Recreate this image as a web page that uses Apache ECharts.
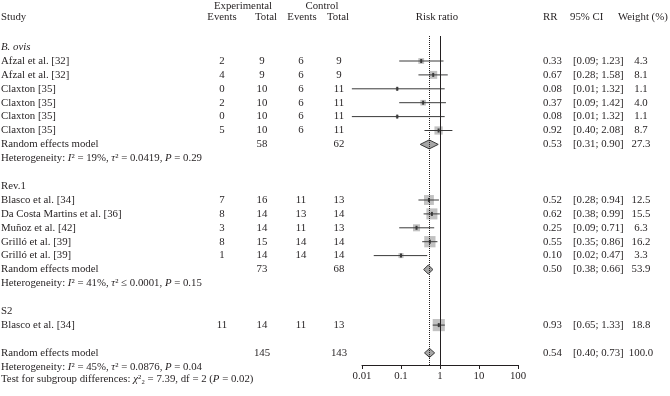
<!DOCTYPE html>
<html>
<head>
<meta charset="utf-8">
<script src="https://cdn.jsdelivr.net/npm/echarts@6/dist/echarts.min.js"></script>
<style>
  html, body { margin: 0; padding: 0; background: #fff; }
  #chart { width: 670px; height: 396px; }
</style>
</head>
<body>
<div id="chart"></div>
<script>
// studies (row = line number in the table)
var studyNames = ['Afzal et al. [32]', 'Afzal et al. [32]', 'Claxton [35]', 'Claxton [35]', 'Claxton [35]', 'Claxton [35]',
  'Blasco et al. [34]', 'Da Costa Martins et al. [36]', 'Muñoz et al. [42]', 'Grilló et al. [39]', 'Grilló et al. [39]',
  'Blasco et al. [34]']
var studyRows = [0, 1, 2, 3, 4, 5, 10, 11, 12, 13, 14, 19]
var expEvents = [2, 4, 0, 2, 0, 5, 7, 8, 3, 8, 1, 11]
var expTotal = [9, 9, 10, 10, 10, 10, 16, 14, 14, 15, 14, 14]
var ctrlEvents = [6, 6, 6, 6, 6, 6, 11, 13, 11, 14, 14, 11]
var ctrlTotal = [9, 9, 11, 11, 11, 11, 13, 14, 13, 14, 14, 13]
var rr = [0.33, 0.67, 0.08, 0.37, 0.08, 0.92, 0.52, 0.62, 0.25, 0.55, 0.10, 0.93]
var ciLow = [0.09, 0.28, 0.0055, 0.09, 0.0055, 0.40, 0.28, 0.38, 0.09, 0.35, 0.02, 0.65]
var ciHigh = [1.23, 1.58, 1.32, 1.42, 1.32, 2.08, 0.94, 0.99, 0.71, 0.86, 0.47, 1.33]
var weight = [4.3, 8.1, 1.1, 4.0, 1.1, 8.7, 12.5, 15.5, 6.3, 16.2, 3.3, 18.8]

// subgroups
var groupNames = ['B. ovis', 'Rev.1', 'S2']
var groupRows = [-1, 9, 18]

// random effects models
var poolRows = [6, 15, 21]
var poolExpTotal = [58, 73, 145]
var poolCtrlTotal = [62, 68, 143]
var poolRR = [0.53, 0.50, 0.54]
var poolLow = [0.31, 0.38, 0.40]
var poolHigh = [0.90, 0.66, 0.73]
var poolWeight = ['27.3', '53.9', '100.0']

// heterogeneity lines
var hetRows = [7, 16, 22]
var hetI2 = ['19%', '41%', '45%']
var hetTau2 = ['= 0.0419', '≤ 0.0001', '= 0.0876']
var hetP = ['0.29', '0.15', '0.04']
var testRow = 22.9
var testChi2 = '7.39'
var testDf = '2'
var testP = '0.02'

var tickLabels = ['0.01', '0.1', '1', '10', '100']

// layout
var W = 670
var H = 396
var ROW0 = 61 // pixel y of row 0
var PITCH = 13.9 // pixels per row
var PLOT_TOP = 36
var PLOT_BOTTOM = 365
var FONT = '10.8px "Liberation Serif", "DejaVu Serif", serif'
var INK = '#231f20'

var col = { study: 1, expEv: 222, expTot: 262, ctrlEv: 301, ctrlTot: 339, rr: 543, ci: 573, w: 641 }

// text cells of the table
var cells = []
function cell(x, r, text, align, rich) {
  cells.push({ x: x, r: r, text: text, align: align || 'center', rich: !!rich })
}
cell(243, -3.95, 'Experimental')
cell(322, -3.95, 'Control')
cell(1, -3.15, 'Study', 'left')
cell(222, -3.15, 'Events')
cell(266, -3.15, 'Total')
cell(302, -3.15, 'Events')
cell(338, -3.15, 'Total')
cell(437, -3.15, 'Risk ratio')
cell(543, -3.15, 'RR', 'left')
cell(570, -3.15, '95% CI', 'left')
cell(618, -3.15, 'Weight (%)', 'left')

groupNames.forEach(function(g, i) {
  cell(col.study, groupRows[i], i === 0 ? '{i|' + g + '}' : g, 'left', i === 0)
})
studyNames.forEach(function(name, i) {
  var r = studyRows[i]
  cell(col.study, r, name, 'left')
  cell(col.expEv, r, String(expEvents[i]))
  cell(col.expTot, r, String(expTotal[i]))
  cell(col.ctrlEv, r, String(ctrlEvents[i]))
  cell(col.ctrlTot, r, String(ctrlTotal[i]))
  cell(col.rr, r, rr[i].toFixed(2), 'left')
  cell(col.ci, r, '[' + ciLow[i].toFixed(2) + '; ' + ciHigh[i].toFixed(2) + ']', 'left')
  cell(col.w, r, weight[i].toFixed(1))
})
poolRows.forEach(function(r, i) {
  cell(col.study, r, 'Random effects model', 'left')
  cell(col.expTot, r, String(poolExpTotal[i]))
  cell(col.ctrlTot, r, String(poolCtrlTotal[i]))
  cell(col.rr, r, poolRR[i].toFixed(2), 'left')
  cell(col.ci, r, '[' + poolLow[i].toFixed(2) + '; ' + poolHigh[i].toFixed(2) + ']', 'left')
  cell(col.w, r, poolWeight[i])
})
hetRows.forEach(function(r, i) {
  cell(col.study, r, 'Heterogeneity: {i|I}² = ' + hetI2[i] + ', {i|τ}² ' + hetTau2[i] + ', {i|P} = ' + hetP[i], 'left', true)
})
cell(col.study, testRow, 'Test for subgroup differences: {i|χ}²₂ = ' + testChi2 + ', df = ' + testDf + ' ({i|P} = ' + testP + ')', 'left', true)

var studyData = rr.map(function(v, i) { return [v, ciLow[i], ciHigh[i], studyRows[i], weight[i]] })
var poolData = poolRR.map(function(v, i) { return [v, poolLow[i], poolHigh[i], poolRows[i]] })

var myChart = echarts.init(document.getElementById('chart'), null, { renderer: 'canvas' })

var options = {
  animation: false,
  backgroundColor: '#fff',
  grid: [
    { left: 362, right: W - 518, top: PLOT_TOP, bottom: H - PLOT_BOTTOM, outerBoundsMode: 'none' },
    { left: 0, right: 0, top: 0, bottom: 0, outerBoundsMode: 'none' }
  ],
  xAxis: [
    {
      gridIndex: 0,
      type: 'log',
      logBase: 10,
      min: 0.01,
      max: 100,
      axisLine: { show: true, onZero: false, lineStyle: { color: INK, width: 1 } },
      axisTick: { show: true, length: 4, lineStyle: { color: INK } },
      axisLabel: {
        color: INK,
        fontFamily: '"Liberation Serif", serif',
        fontSize: 10.8,
        margin: 6,
        formatter: function(v) { return tickLabels[Math.round(Math.log10(v)) + 2] }
      },
      splitLine: { show: false }
    },
    { gridIndex: 1, type: 'value', min: 0, max: W, show: false }
  ],
  yAxis: [
    { gridIndex: 0, type: 'value', inverse: true, min: (PLOT_TOP - ROW0) / PITCH, max: (PLOT_BOTTOM - ROW0) / PITCH, show: false },
    { gridIndex: 1, type: 'value', inverse: true, min: -ROW0 / PITCH, max: (H - ROW0) / PITCH, show: false }
  ],
  series: [
    {
      // confidence intervals and weighted squares
      type: 'custom',
      xAxisIndex: 0,
      yAxisIndex: 0,
      clip: false,
      data: studyData,
      encode: { x: [0, 1, 2], y: 3 },
      renderItem: function(params, api) {
        var c = api.coord([api.value(0), api.value(3)])
        var lo = api.coord([api.value(1), api.value(3)])
        var hi = api.coord([api.value(2), api.value(3)])
        var s = 2.8 * Math.sqrt(api.value(4))
        return {
          type: 'group',
          children: [
            { type: 'rect', shape: { x: c[0] - s / 2, y: c[1] - s / 2, width: s, height: s }, style: { fill: '#c2c2c2' } },
            { type: 'line', shape: { x1: lo[0], y1: c[1], x2: hi[0], y2: c[1] }, style: { stroke: '#3a3a3a', lineWidth: 1 } },
            { type: 'rect', shape: { x: c[0] - 1, y: c[1] - 2, width: 2, height: 4 }, style: { fill: '#3a3a3a' } }
          ]
        }
      },
      markLine: {
        silent: true,
        symbol: 'none',
        label: { show: false },
        data: [
          { xAxis: 1, lineStyle: { color: INK, width: 1, type: 'solid' } },
          { xAxis: poolRR[2], lineStyle: { color: INK, width: 1, type: 'dotted' } }
        ]
      }
    },
    {
      // pooled diamonds
      type: 'custom',
      xAxisIndex: 0,
      yAxisIndex: 0,
      clip: false,
      data: poolData,
      encode: { x: [0, 1, 2], y: 3 },
      renderItem: function(params, api) {
        var c = api.coord([api.value(0), api.value(3)])
        var lo = api.coord([api.value(1), api.value(3)])
        var hi = api.coord([api.value(2), api.value(3)])
        var h = 4.5
        return {
          type: 'polygon',
          shape: { points: [[lo[0], c[1]], [c[0], c[1] - h], [hi[0], c[1]], [c[0], c[1] + h]] },
          style: { fill: '#a6a6a6', stroke: '#3a3a3a', lineWidth: 1 }
        }
      }
    },
    {
      // table text
      type: 'custom',
      xAxisIndex: 1,
      yAxisIndex: 1,
      clip: false,
      silent: true,
      data: cells.map(function(c, i) { return [c.x, c.r, i] }),
      renderItem: function(params, api) {
        var c = cells[api.value(2)]
        var p = api.coord([c.x, c.r])
        var style = {
          text: c.text,
          x: 0,
          y: 0,
          fill: INK,
          font: FONT,
          align: c.align,
          verticalAlign: 'middle'
        }
        if (c.rich) {
          style.rich = { i: { fontStyle: 'italic', font: 'italic ' + FONT, fill: INK } }
        }
        return { type: 'text', x: p[0], y: p[1], style: style }
      }
    }
  ]
}
myChart.setOption(options)
</script>
</body>
</html>
